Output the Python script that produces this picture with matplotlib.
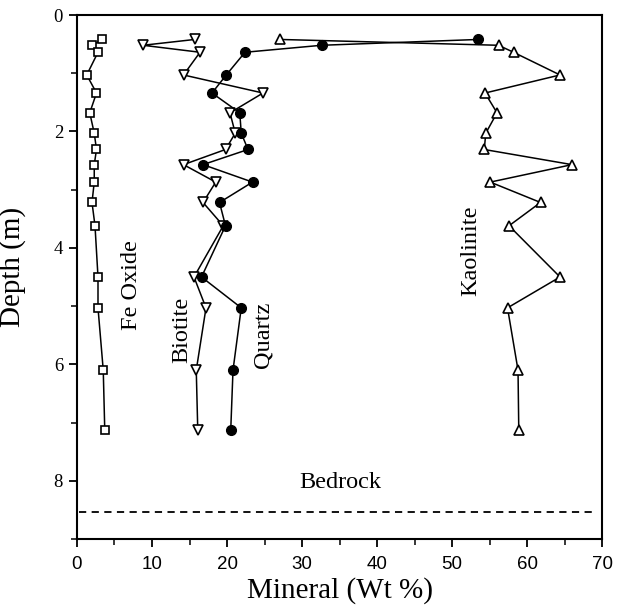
import numpy as np
import matplotlib
matplotlib.use("Agg")
import matplotlib.pyplot as plt
from matplotlib.ticker import MultipleLocator

plt.rcParams['font.family'] = ['Liberation Serif', 'DejaVu Serif']

# sample depths (m), shared by all profiles
depth = [0.42, 0.52, 0.64, 1.03, 1.34, 1.68, 2.03, 2.31, 2.57, 2.87,
         3.22, 3.62, 4.50, 5.03, 6.10, 7.12]

# mineral content (wt %)
fe_oxide = [3.4, 2.0, 2.8, 1.3, 2.6, 1.7, 2.3, 2.6, 2.3, 2.3,
            2.0, 2.4, 2.8, 2.8, 3.5, 3.7]
biotite = [15.7, 8.8, 16.4, 14.2, 24.8, 20.4, 21.1, 19.8, 14.2, 18.5,
           16.8, 19.5, 15.6, 17.2, 15.9, 16.1]
quartz = [53.5, 32.6, 22.4, 19.9, 18.0, 21.7, 21.9, 22.8, 16.8, 23.4,
          19.0, 19.8, 16.6, 21.9, 20.8, 20.5]
kaolinite = [27.1, 56.2, 58.2, 64.4, 54.4, 56.0, 54.5, 54.3, 66.0, 55.1,
             61.8, 57.6, 64.4, 57.4, 58.8, 58.9]

bedrock_depth = 8.54

fig = plt.figure(figsize=(6.26, 6.15), dpi=100)
ax = fig.add_axes([0.123, 0.1236, 0.8387, 0.852])

lw = 1.1
ax.plot(fe_oxide, depth, color='black', lw=lw, marker='s', ms=5.5,
        mfc='white', mec='black', mew=1.2)
ax.plot(biotite, depth, color='black', lw=lw, marker='v', ms=6.5,
        mfc='white', mec='black', mew=1.2)
ax.plot(quartz, depth, color='black', lw=lw, marker='o', ms=7,
        mfc='black', mec='black')
ax.plot(kaolinite, depth, color='black', lw=lw, marker='^', ms=6.5,
        mfc='white', mec='black', mew=1.2)

ax.plot([0.3, 69], [bedrock_depth, bedrock_depth], color='black', lw=1.3,
        ls=(0, (4, 3)))

ax.text(7.3, 4.63, 'Fe Oxide', rotation=90, ha='center', va='center', fontsize=17.5)
ax.text(14.0, 5.40, 'Biotite', rotation=90, ha='center', va='center', fontsize=17.5)
ax.text(24.8, 5.50, 'Quartz', rotation=90, ha='center', va='center', fontsize=17.5)
ax.text(52.5, 4.05, 'Kaolinite', rotation=90, ha='center', va='center', fontsize=17.5)
ax.text(35.1, 8.03, 'Bedrock', ha='center', va='center', fontsize=17.5)

ax.set_xlim(0, 70)
ax.set_ylim(9, 0)
ax.xaxis.set_major_locator(MultipleLocator(10))
ax.xaxis.set_minor_locator(MultipleLocator(5))
ax.yaxis.set_major_locator(MultipleLocator(2))
ax.yaxis.set_minor_locator(MultipleLocator(1))
ax.tick_params(which='major', direction='out', length=6, width=1.3)
ax.tick_params(which='minor', direction='out', length=4, width=1.1)
ax.tick_params(axis='y', labelsize=13.5, pad=4)
ax.tick_params(axis='x', pad=6)
for lab in ax.get_xticklabels():
    lab.set_fontfamily(['Liberation Sans', 'DejaVu Sans'])
    lab.set_fontsize(13.5)

for sp in ax.spines.values():
    sp.set_linewidth(1.5)

ax.set_xlabel('Mineral (Wt %)', fontsize=21, labelpad=3)
ax.set_ylabel('Depth (m)', fontsize=21, labelpad=8)
ax.yaxis.set_label_coords(-0.098, 0.52)

fig.savefig('out.png', dpi=100)
